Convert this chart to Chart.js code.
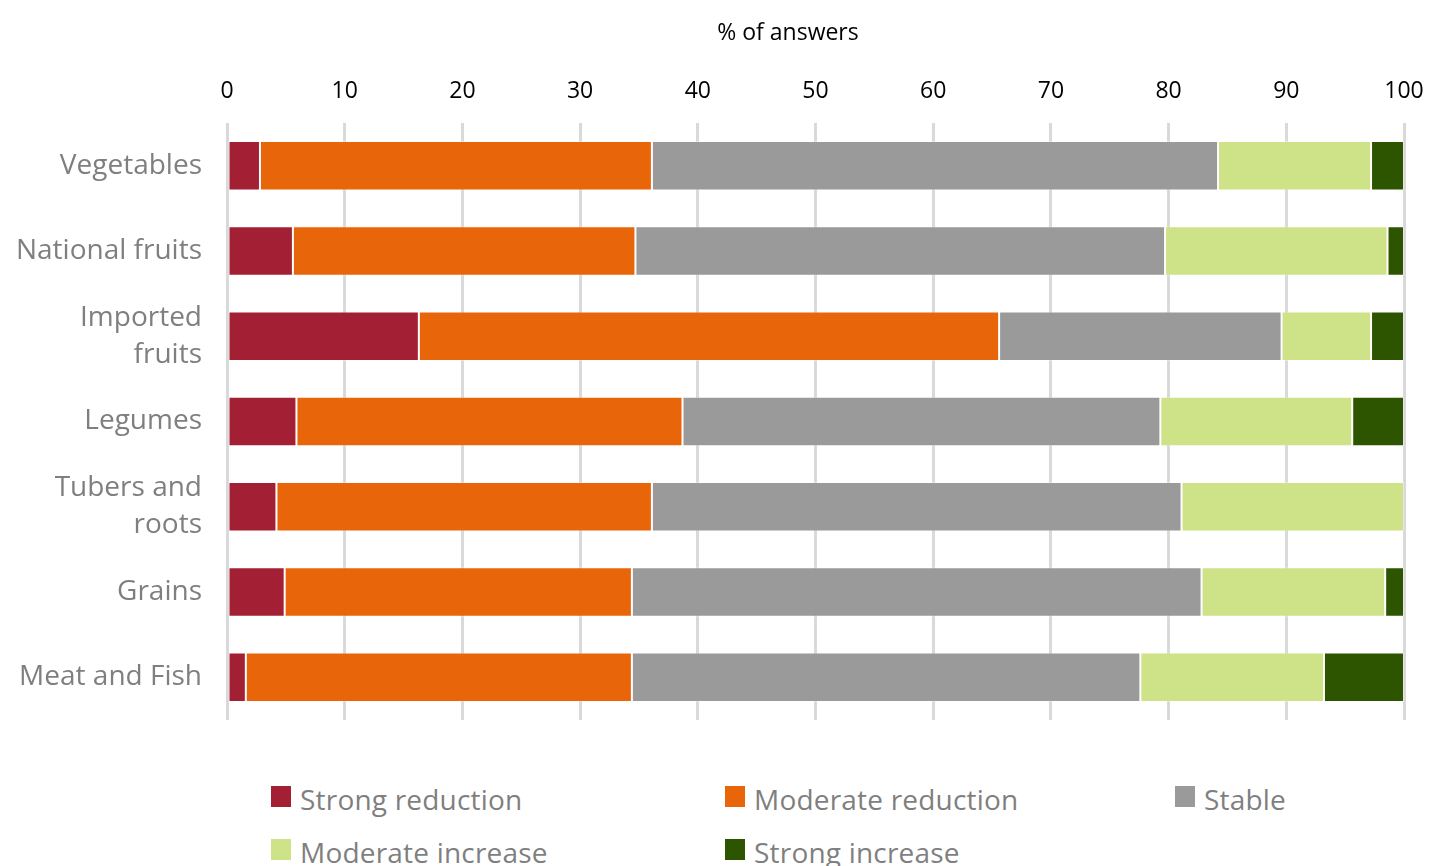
<!DOCTYPE html>
<html>
<head>
<meta charset="utf-8">
<script src="https://cdn.jsdelivr.net/npm/chart.js@4/dist/chart.umd.min.js"></script>
<style>
  html, body { margin: 0; padding: 0; background: #fff; overflow: hidden; }
  #wrap { position: relative; width: 1435px; height: 866px; }
  #box { position: absolute; left: 0; top: 0; width: 1435px; height: 760px; }
  #axisTitle { position: absolute; left: 688px; width: 200px; top: 15px; text-align: center; font-family: "Open Sans", sans-serif; font-size: 23px; color: #000; line-height: 32px; }
  .leg { position: absolute; font-family: "Open Sans", sans-serif; font-size: 28px; letter-spacing: 0.2px; color: #7f7f7f; white-space: nowrap; line-height: 30px; }
  .leg i { position: absolute; left: 0; top: 1px; width: 20px; height: 21px; }
  .leg span { position: absolute; left: 29px; top: -1px; }
</style>
</head>
<body>
<div id="wrap">
  <div id="box"><canvas id="foodChart"></canvas></div>
  <div id="axisTitle">% of answers</div>
  <div id="legend"></div>
</div>
<script>
// nhóm thực phẩm
const foodLabels = ['Vegetables', 'National fruits', ['Imported', 'fruits'], 'Legumes', ['Tubers and', 'roots'], 'Grains', 'Meat and Fish'];

// % câu trả lời theo từng mức thay đổi
const strongReduction = [2.8, 5.6, 16.3, 5.9, 4.2, 4.9, 1.6];
const moderateReduction = [33.3, 29.1, 49.3, 32.8, 31.9, 29.5, 32.8];
const stable = [48.1, 45.0, 24.0, 40.6, 45.0, 48.4, 43.2];
const moderateIncrease = [13.0, 18.9, 7.6, 16.3, 18.9, 15.6, 15.6];
const strongIncrease = [2.8, 1.4, 2.8, 4.4, 0, 1.6, 6.8];

const seriesNames = ['Strong reduction', 'Moderate reduction', 'Stable', 'Moderate increase', 'Strong increase'];
const seriesColors = ['#a31f34', '#e9650a', '#9a9a9a', '#cee388', '#2d5500'];

/**
 * vẽ chú thích bên dưới biểu đồ, 3 cột
 */
function drawLegend() {
    const cols = [271, 725, 1175];
    const rows = [785, 838];
    let html = '';
    for (let i = 0; i < seriesNames.length; i++) {
        let x = cols[i % 3];
        let y = rows[Math.floor(i / 3)];
        html += `<div class="leg" style="left:${x}px;top:${y}px"><i style="background:${seriesColors[i]}"></i><span>${seriesNames[i]}</span></div>`;
    }
    document.getElementById('legend').innerHTML = html;
}

/**
 * biểu đồ cột ngang chồng
 */
function foodChart(id) {
    const values = [strongReduction, moderateReduction, stable, moderateIncrease, strongIncrease];

    const data = {
        labels: foodLabels,
        datasets: values.map((v, i) => ({
            label: seriesNames[i],
            data: v,
            backgroundColor: seriesColors[i],
            borderColor: 'rgba(255,255,255,0.35)',
            borderWidth: 1,
            borderSkipped: false,
            categoryPercentage: 1,
            barPercentage: 0.58
        }))
    };

    const config = {
        type: 'bar',
        data: data,
        options: {
            indexAxis: 'y',
            responsive: true,
            maintainAspectRatio: false,
            animation: false,
            layout: { padding: { left: 0, right: 31, top: 10, bottom: 40 } },
            plugins: {
                legend: { display: false },
                tooltip: { enabled: false }
            },
            scales: {
                x: {
                    position: 'top',
                    stacked: true,
                    min: 0,
                    max: 100,
                    ticks: {
                        stepSize: 10,
                        padding: 18,
                        color: '#000',
                        font: { family: 'Open Sans', size: 23 }
                    },
                    grid: { color: '#d9d9d9', lineWidth: 3, drawTicks: false },
                    border: { display: false },
                    // nhãn 0 và 100 được phép tràn ra ngoài vùng vẽ
                    afterFit: (s) => { s.height = 113; s.paddingLeft = 0; s.paddingRight = 0; }
                },
                y: {
                    stacked: true,
                    grid: { display: false },
                    border: { display: false },
                    ticks: {
                        padding: 17,
                        color: '#7f7f7f',
                        font: { family: 'Open Sans', size: 28, lineHeight: 1.33 }
                    },
                    afterFit: (s) => { s.width = 227; }
                }
            }
        }
    };

    const ctx = document.getElementById(id);
    new Chart(ctx, config);
}

drawLegend();
foodChart('foodChart');
</script>
</body>
</html>
